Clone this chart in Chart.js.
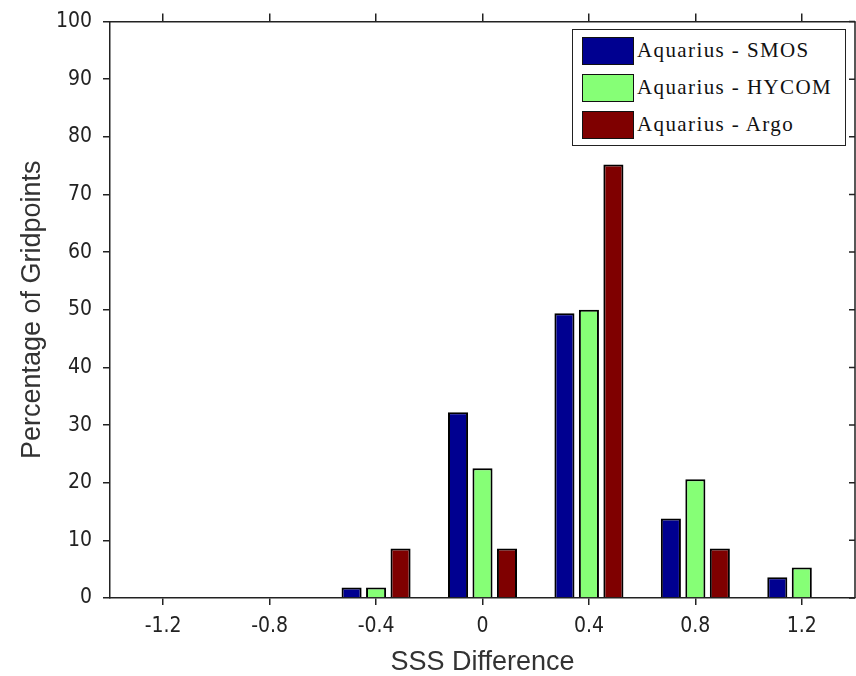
<!DOCTYPE html>
<html>
<head>
<meta charset="utf-8">
<script src="https://cdn.jsdelivr.net/npm/chart.js@4.4.1/dist/chart.umd.min.js"></script>
<style>
  html, body { margin: 0; padding: 0; background: #fff; }
  #wrap { position: relative; width: 856px; height: 676px; }
  #legend {
    position: absolute; left: 572px; top: 29px; width: 272px; height: 115px;
    border: 1.5px solid #222; background: #fff;
    font-family: "Liberation Serif", "Times New Roman", serif; font-size: 21px;
    letter-spacing: 1.4px; color: #111;
  }
  .row { position: absolute; left: 9px; height: 29px; display: flex; align-items: center; white-space: nowrap; }
  .sw { width: 50px; height: 26px; border: 1.5px solid #111; margin-right: 3px; box-sizing: content-box; }
</style>
</head>
<body>
<div id="wrap">
  <canvas id="chart" width="856" height="676"></canvas>
  <div id="legend"></div>
</div>
<script>
  // 数据
  const categories = ['-1.2', '-0.8', '-0.4', '0', '0.4', '0.8', '1.2'];
  const smosValues = [0, 0, 1.8, 32.2, 49.4, 13.8, 3.6];
  const hycomValues = [0, 0, 1.8, 22.5, 50.0, 20.6, 5.3];
  const argoValues = [0, 0, 8.6, 8.6, 75.2, 8.6, 0];
  const seriesLabels = ['Aquarius - SMOS', 'Aquarius - HYCOM', 'Aquarius - Argo'];
  const colors = ['#000090', '#86FF76', '#7F0000'];

  const tickFont = { family: '"Liberation Sans Narrow", "DejaVu Sans Condensed", "Liberation Sans", sans-serif', size: 21, lineHeight: 1 };
  const titleFont = { family: '"Liberation Sans", Arial, sans-serif', size: 27, lineHeight: 1 };
  const axisColor = '#222';

  // 右侧边框和向内刻度
  const frameRight = {
    id: 'frameRight',
    afterDraw(chart) {
      const { ctx, chartArea } = chart;
      const y = chart.scales.y;
      ctx.save();
      ctx.strokeStyle = axisColor;
      ctx.lineWidth = 1.5;
      ctx.beginPath();
      ctx.moveTo(chartArea.right, chartArea.top);
      ctx.lineTo(chartArea.right, chartArea.bottom);
      y.ticks.forEach(t => {
        const py = y.getPixelForValue(t.value);
        ctx.moveTo(chartArea.right, py);
        ctx.lineTo(chartArea.right - 6, py);
      });
      ctx.stroke();
      ctx.restore();
    }
  };

  const allValues = [smosValues, hycomValues, argoValues];
  const datasets = allValues.map((vals, i) => ({
    label: seriesLabels[i],
    data: vals,
    backgroundColor: colors[i],
    borderColor: '#000',
    borderWidth: 2,
    categoryPercentage: 0.69,
    barPercentage: 0.82
  }));

  new Chart(document.getElementById('chart').getContext('2d'), {
    type: 'bar',
    data: { labels: categories, datasets: datasets },
    options: {
      responsive: false,
      animation: false,
      layout: { padding: { left: 0, right: 1, top: 0, bottom: 0 } },
      scales: {
        x: {
          position: 'bottom',
          offset: true,
          grid: { offset: false, drawOnChartArea: false, tickLength: 7, color: axisColor, lineWidth: 1.5 },
          border: { color: axisColor, width: 1.5 },
          ticks: { font: tickFont, color: '#222', padding: 11, maxRotation: 0 },
          title: { display: true, text: 'SSS Difference', font: titleFont, color: '#333', padding: { top: 0, bottom: 0 } },
          afterFit: s => { s.height = 78; }
        },
        x2: {
          position: 'top',
          type: 'category',
          offset: true,
          grid: { offset: false, drawOnChartArea: false, tickLength: 8, color: axisColor, lineWidth: 1.5 },
          border: { color: axisColor, width: 1.5 },
          ticks: { display: false },
          afterFit: s => { s.height = 19; }
        },
        y: {
          min: 0,
          max: 100,
          ticks: { stepSize: 10, font: tickFont, color: '#222', padding: 11 },
          grid: { drawOnChartArea: false, tickLength: 7, color: axisColor, lineWidth: 1.5 },
          border: { color: axisColor, width: 1.5 },
          title: { display: true, text: 'Percentage of Gridpoints', font: titleFont, color: '#333', padding: { top: 19, bottom: 0 } },
          afterFit: s => { s.width = 110; }
        }
      },
      plugins: {
        legend: { display: false },
        tooltip: { enabled: false }
      }
    },
    plugins: [frameRight]
  });

  // 图例
  const legend = document.getElementById('legend');
  seriesLabels.forEach((lab, i) => {
    const row = document.createElement('div');
    row.className = 'row';
    row.style.top = (6 + i * 37) + 'px';
    const sw = document.createElement('div');
    sw.className = 'sw';
    sw.style.background = colors[i];
    const txt = document.createElement('span');
    txt.textContent = lab;
    row.appendChild(sw);
    row.appendChild(txt);
    legend.appendChild(row);
  });
</script>
</body>
</html>
